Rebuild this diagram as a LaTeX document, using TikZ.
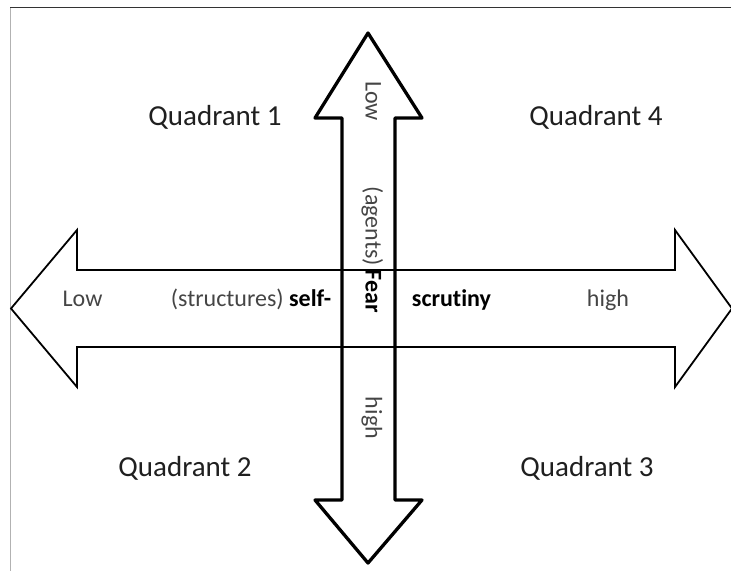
\documentclass[tikz,border=0pt]{standalone}
\usepackage{fontspec}
\setmainfont{Carlito}[Ligatures = NoCommon]
\definecolor{lbl}{gray}{0.27}
\definecolor{quad}{gray}{0.12}
\begin{document}
\begin{tikzpicture}[x=1pt, y=-1pt,
    quadlbl/.style={text=quad, inner sep=0, font=\fontsize{29}{33}\selectfont},
    arrlbl/.style={text=lbl, inner sep=0, anchor=mid, font=\fontsize{24}{28}\selectfont},
    varrlbl/.style={arrlbl, rotate=-90}]
      \useasboundingbox (0, 0) rectangle (731, 571);

        %%frame
        \draw[line width = .6pt, gray!60](10, 7) to (10, 571);
        \draw[line width = .9pt, black!80](10, 7) to (731, 7);

        %%vertical arrow
        \draw[line width = 3.3pt, line join = round](368, 33) -- (422, 118) -- (395, 118) -- (395, 500)
          -- (422, 500) -- (368, 563) -- (315, 500) -- (342, 500) -- (342, 118) -- (315, 118) -- cycle;

        %%horizontal arrow
        \draw[line width = 1.8pt](11, 308.5) -- (77, 230) -- (77, 270) -- (675, 270) -- (675, 230)
          -- (732, 308.5) -- (675, 387) -- (675, 347) -- (77, 347) -- (77, 387) -- cycle;

        %%quadrants
        \node[quadlbl, anchor = base] (q1) at (215, 125){Quadrant 1};
        \node[quadlbl, anchor = base] (q4) at (596, 125){Quadrant 4};
        \node[quadlbl, anchor = base] (q2) at (185, 476){Quadrant 2};
        \node[quadlbl, anchor = base] (q3) at (587, 476){Quadrant 3};

        %%horizontal labels
        \node[arrlbl] (hlow) at (82.5, 304.5){Low};
        \node[arrlbl] (hstruct) at (251, 304.5){(structures) \textcolor{black}{\textbf{self-}}};
        \node[arrlbl, text = black] (hscrut) at (451.5, 304.5){\textbf{scrutiny}};
        \node[arrlbl] (hhigh) at (608, 304.5){high};

        %%vertical labels
        \node[varrlbl] (vlow) at (368, 101){Low};
        \node[varrlbl] (vfear) at (368, 250){(agents)\,\textcolor{black}{\textbf{Fear}}};
        \node[varrlbl] (vhigh) at (368, 418){high};

    \end{tikzpicture}
\end{document}
